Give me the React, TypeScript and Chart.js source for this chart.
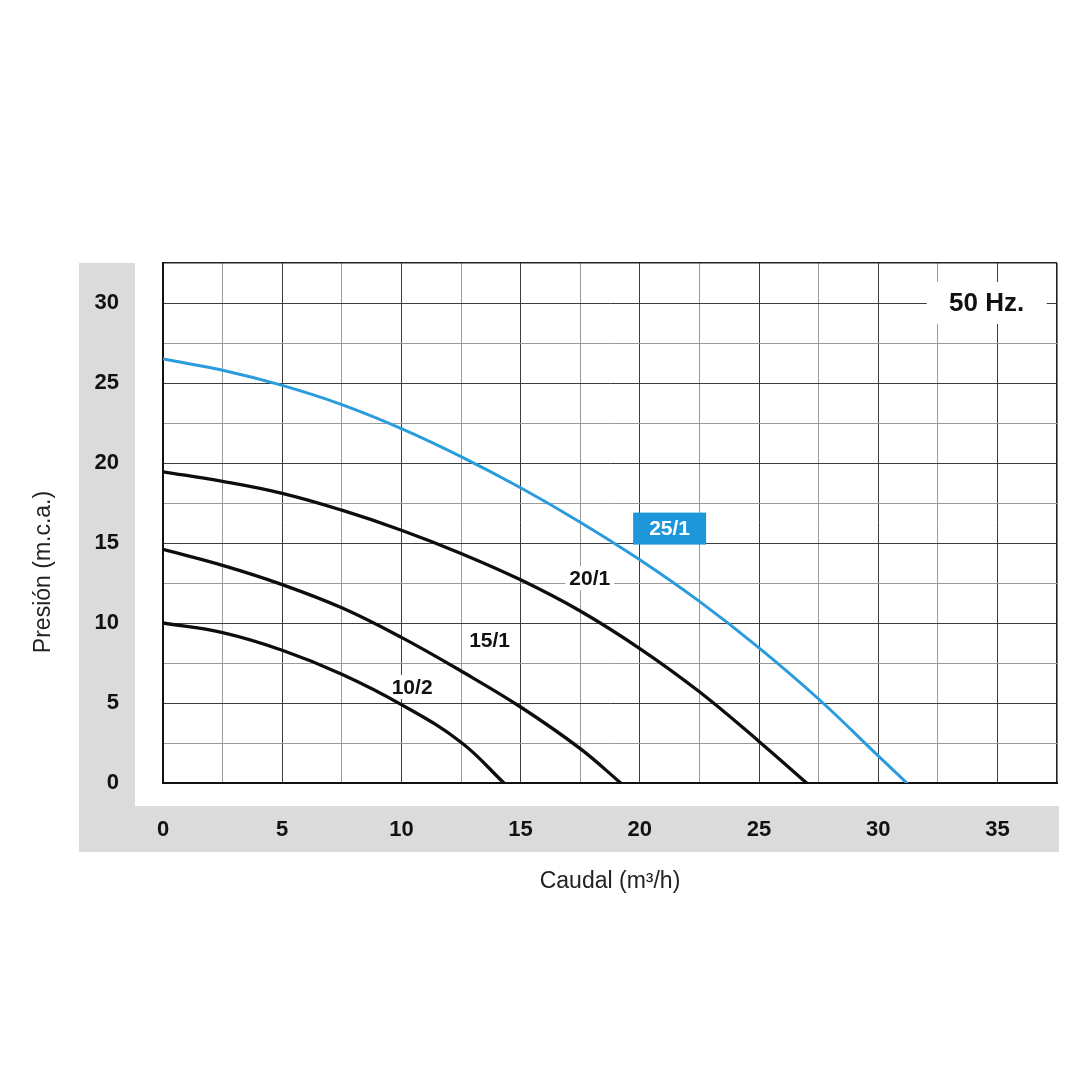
import { useEffect, useRef } from 'react';
import { Chart, registerables } from 'chart.js';

Chart.register(...registerables);

const FONT = "'Liberation Sans', Arial, Helvetica, sans-serif";

// Pump curves: flow (m³/h) and head (m.c.a.)
const flow25_1 = [0, 2.5, 5, 7.5, 10, 12.5, 15, 17.5, 20, 22.5, 25, 27.5, 30, 31.2];
const head25_1 = [26.5, 25.8, 24.85, 23.65, 22.15, 20.4, 18.45, 16.3, 13.95, 11.35, 8.45, 5.25, 1.7, 0];
const flow20_1 = [0, 2.5, 5, 7.5, 10, 12.5, 15, 17.5, 20, 22.5, 25, 27.0];
const head20_1 = [19.45, 18.85, 18.1, 17.05, 15.8, 14.35, 12.7, 10.75, 8.4, 5.7, 2.6, 0];
const flow15_1 = [0, 2.5, 5, 7.5, 10, 12.5, 15, 17.5, 19.2];
const head15_1 = [14.6, 13.6, 12.4, 10.95, 9.1, 7.0, 4.75, 2.15, 0];
const flow10_2 = [0, 2.5, 5, 7.5, 10, 12.5, 14.3];
const head10_2 = [10.0, 9.4, 8.3, 6.8, 4.9, 2.55, 0];

const seriesNames = ['25/1', '20/1', '15/1', '10/2'];
const labelFlow = [21.25, 17.9, 13.7, 10.45];
const labelHead = [15.9, 12.8, 8.9, 6.0];

const xTitle = 'Caudal (m³/h)';
const yTitle = 'Presión (m.c.a.)';
const freqLabel = '50 Hz.';
const freqFlow = 34.55;
const freqHead = 30;

const xMax = 37.5;
const yMax = 32.5;
const gridStep = 2.5;
const labelStep = 5;

const BLUE = '#2a9cdd';
const BLUE_BOX = '#1e97da';
const GRAY = '#dbdbdb';

export default function App() {
  const ref = useRef<HTMLCanvasElement>(null);

  useEffect(() => {
    const canvas = ref.current;
    if (!canvas) return;

    const mk = (xs: number[], ys: number[]) => xs.map((x, i) => ({ x, y: ys[i] }));

    const gridColor = (max: number) => (c: any) => {
      const v = c.tick ? c.tick.value : undefined;
      if (v === undefined) return '#999';
      if (Math.abs(v - max) < 1e-6) return '#222';
      return Math.abs(v % labelStep) < 1e-6 ? '#3d3d3d' : '#9a9a9a';
    };
    const gridWidth = (max: number) => (c: any) => {
      const v = c.tick ? c.tick.value : undefined;
      if (v !== undefined && Math.abs(v - max) < 1e-6) return 1.6;
      return 1;
    };

    const bands = {
      id: 'bands',
      beforeDraw(chart: any) {
        const { ctx, chartArea } = chart;
        ctx.save();
        ctx.fillStyle = '#ffffff';
        ctx.fillRect(0, 0, chart.width, chart.height);
        ctx.fillStyle = GRAY;
        // left band and bottom band
        ctx.fillRect(79, chartArea.top, 56, 852 - chartArea.top);
        ctx.fillRect(79, 806, chartArea.right + 2 - 79, 46);
        ctx.restore();
      },
    };

    const labels = {
      id: 'curveLabels',
      beforeDatasetsDraw(chart: any) {
        const { ctx } = chart;
        const xs = chart.scales.x;
        const ys = chart.scales.y;
        ctx.save();
        ctx.font = `bold 21px ${FONT}`;
        seriesNames.forEach((name, i) => {
          if (i === 0) return;
          const px = xs.getPixelForValue(labelFlow[i]);
          const py = ys.getPixelForValue(labelHead[i]);
          const w = ctx.measureText(name).width;
          ctx.fillStyle = '#ffffff';
          ctx.fillRect(px - w / 2 - 4, py - 12, w + 8, 24);
        });
        const fx = xs.getPixelForValue(freqFlow);
        const fy = ys.getPixelForValue(freqHead);
        ctx.fillStyle = '#ffffff';
        ctx.fillRect(fx - 60, fy - 21, 120, 42);
        ctx.restore();
      },
      afterDatasetsDraw(chart: any) {
        const { ctx } = chart;
        const xs = chart.scales.x;
        const ys = chart.scales.y;
        ctx.save();
        ctx.textAlign = 'center';
        ctx.textBaseline = 'middle';
        seriesNames.forEach((name, i) => {
          const px = xs.getPixelForValue(labelFlow[i]);
          const py = ys.getPixelForValue(labelHead[i]);
          ctx.font = `bold 21px ${FONT}`;
          if (i === 0) {
            ctx.fillStyle = BLUE_BOX;
            ctx.fillRect(px - 36.5, py - 16, 73, 32);
            ctx.fillStyle = '#ffffff';
          } else {
            ctx.fillStyle = '#111111';
          }
          ctx.fillText(name, px, py + 1);
        });
        const fx = xs.getPixelForValue(freqFlow);
        const fy = ys.getPixelForValue(freqHead);
        ctx.font = `bold 26px ${FONT}`;
        ctx.fillStyle = '#111111';
        ctx.fillText(freqLabel, fx, fy + 1);
        ctx.restore();
      },
      afterDraw(chart: any) {
        const { ctx } = chart;
        ctx.save();
        ctx.translate(43.5, 572);
        ctx.rotate(-Math.PI / 2);
        ctx.textAlign = 'center';
        ctx.textBaseline = 'middle';
        ctx.font = `23px ${FONT}`;
        ctx.fillStyle = '#222222';
        ctx.fillText(yTitle, 0, 0);
        ctx.restore();
      },
    };

    const lineDs = (label: string, xs: number[], ys: number[], color: string, width: number) => ({
      label,
      data: mk(xs, ys),
      borderColor: color,
      backgroundColor: color,
      borderWidth: width,
      pointRadius: 0,
      fill: false,
      tension: 0.4,
      borderCapStyle: 'round' as const,
      borderJoinStyle: 'round' as const,
    });

    const chart = new Chart(canvas, {
      type: 'line',
      data: {
        datasets: [
          lineDs(seriesNames[0], flow25_1, head25_1, BLUE, 3),
          lineDs(seriesNames[1], flow20_1, head20_1, '#0d0d0d', 3.3),
          lineDs(seriesNames[2], flow15_1, head15_1, '#0d0d0d', 3.3),
          lineDs(seriesNames[3], flow10_2, head10_2, '#0d0d0d', 3.3),
        ],
      },
      options: {
        animation: false,
        responsive: false,
        devicePixelRatio: 1,
        layout: { padding: { left: 0, top: 263, right: 23, bottom: 177 } },
        plugins: {
          legend: { display: false },
          tooltip: { enabled: false },
        },
        scales: {
          x: {
            type: 'linear',
            min: 0,
            max: xMax,
            afterFit: (s: any) => {
              s.height = 120;
              s.paddingLeft = 0;
              s.paddingRight = 0;
            },
            ticks: {
              stepSize: gridStep,
              autoSkip: false,
              maxRotation: 0,
              padding: 34,
              color: '#111111',
              font: { family: FONT, size: 22, weight: 'bold' },
              callback: (v: any) => (Math.abs(Number(v) % labelStep) < 1e-6 ? String(v) : ''),
            },
            grid: { drawTicks: false, color: gridColor(xMax), lineWidth: gridWidth(xMax) },
            border: { color: '#111111', width: 2 },
            title: {
              display: true,
              text: xTitle,
              color: '#222222',
              font: { family: FONT, size: 23 },
              padding: { top: 0, bottom: 7.5 },
            },
          },
          y: {
            type: 'linear',
            min: 0,
            max: yMax,
            afterFit: (s: any) => {
              s.width = 163;
              s.paddingTop = 0;
              s.paddingBottom = 0;
            },
            ticks: {
              stepSize: gridStep,
              autoSkip: false,
              padding: 44,
              color: '#111111',
              font: { family: FONT, size: 22, weight: 'bold' },
              callback: (v: any) => (Math.abs(Number(v) % labelStep) < 1e-6 ? String(v) : ''),
            },
            grid: { drawTicks: false, color: gridColor(yMax), lineWidth: gridWidth(yMax) },
            border: { color: '#111111', width: 2 },
            title: { display: false, text: yTitle },
          },
        },
      } as any,
      plugins: [bands, labels],
    });

    return () => chart.destroy();
  }, []);

  return (
    <div style={{ position: 'absolute', left: 0, top: 0, width: 1080, height: 1080, background: '#fff' }}>
      <canvas ref={ref} width={1080} height={1080} style={{ display: 'block', width: 1080, height: 1080 }} />
    </div>
  );
}
